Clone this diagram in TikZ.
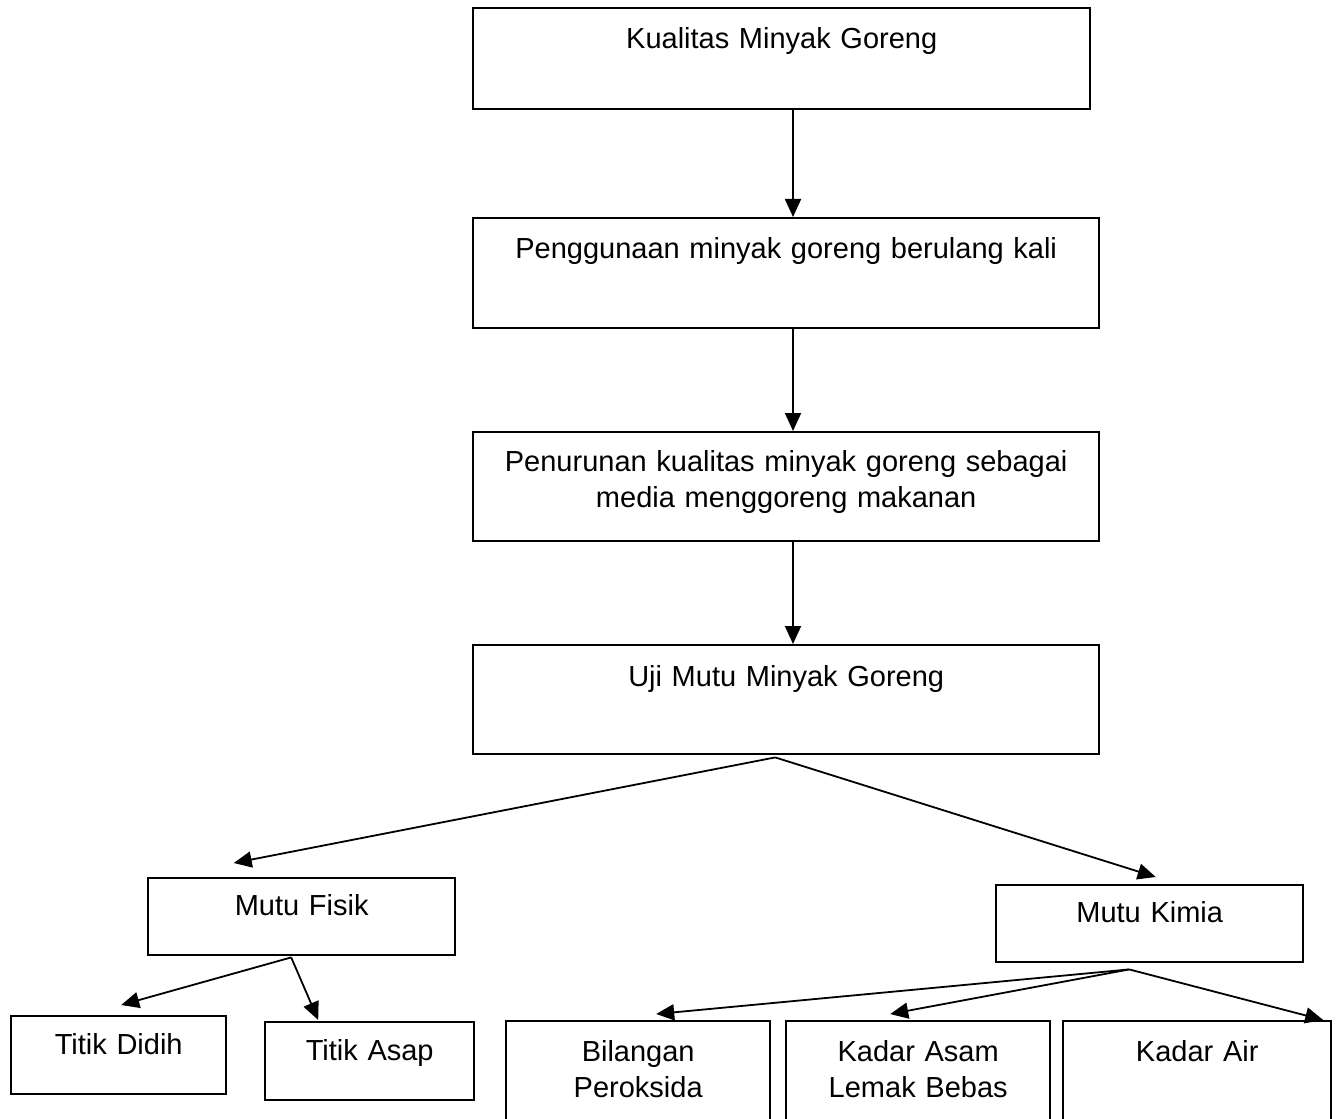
\documentclass[tikz,border=0pt]{standalone}
\usepackage{fontspec}
\setmainfont{Liberation Sans}
\usetikzlibrary{arrows.meta}

\begin{document}
\begin{tikzpicture}[x=0.5pt,y=-0.5pt]
    % Styles
    \tikzstyle{panah}=[->,>={Triangle[length=9pt,width=8pt]},line width=0.9pt]
    \tikzstyle{kotak}=[draw,line width=1.2pt,inner sep=0pt,anchor=north west,align=center,font=\fontsize{14.5}{18}\selectfont]
    \tikzstyle{besar}=[kotak,text width=313pt,text height=20pt,text depth=35pt]
    \tikzstyle{sedang}=[kotak,text width=153.5pt,text height=18.5pt,text depth=20pt]
    \tikzstyle{kecil}=[kotak,text width=133pt,text height=20pt,text depth=42pt]
    % Cadre
    \useasboundingbox (0,0) rectangle (1336,1118);
    \clip (0,0) rectangle (1336,1118);
    \coordinate (sumbu) at (793,0);
    % Noeuds
    \node[besar,text width=308.5pt,text depth=30.5pt] (kualitas) at (472,7) {Kualitas Minyak Goreng};
    \node[besar] (penggunaan) at (472,217) {Penggunaan minyak goreng berulang kali};
    \node[besar,text height=19.5pt] (penurunan) at (472,431) {Penurunan kualitas minyak goreng sebagai\\media menggoreng makanan};
    \node[besar,text height=20.5pt,text depth=34pt] (uji) at (472,644) {Uji Mutu Minyak Goreng};
    \node[sedang] (fisik) at (147,877) {Mutu Fisik};
    \node[sedang] (kimia) at (995,884) {Mutu Kimia};
    \node[sedang,text width=107.5pt,text height=19pt] (didih) at (10,1015) {Titik Didih};
    \node[sedang,text width=104.5pt,text height=19pt] (asap) at (264,1021) {Titik Asap};
    \node[kecil,text width=132pt] (peroksida) at (505,1020) {Bilangan\\Peroksida};
    \node[kecil,text width=132pt] (asam) at (785,1020) {Kadar Asam\\Lemak Bebas};
    \node[kecil,text width=134pt] (air) at (1062,1020) {Kadar Air};
    % Arcs
    \draw[panah] (kualitas.south -| sumbu) -- (penggunaan.north -| sumbu);
    \draw[panah] (penggunaan.south -| sumbu) -- (penurunan.north -| sumbu);
    \draw[panah] (penurunan.south -| sumbu) -- (uji.north -| sumbu);
    \draw[panah] ([xshift=-5.5pt,yshift=-1pt]uji.south) -- ([xshift=-34pt,yshift=7pt]fisik.north);
    \draw[panah] ([xshift=-5.5pt,yshift=-1pt]uji.south) -- ([xshift=3pt,yshift=3.5pt]kimia.north);
    \draw[panah] ([xshift=-5.25pt,yshift=-0.5pt]fisik.south) -- ([xshift=1.25pt,yshift=5pt]didih.north);
    \draw[panah] ([xshift=-5.25pt,yshift=-0.5pt]fisik.south) -- ([xshift=-25.75pt,yshift=0.5pt]asap.north);
    \draw[panah] ([xshift=-10.25pt,yshift=-3pt]kimia.south) -- ([xshift=9pt,yshift=3pt]peroksida.north);
    \draw[panah] ([xshift=-10.25pt,yshift=-3pt]kimia.south) -- ([xshift=-14pt,yshift=3pt]asam.north);
    \draw[panah] ([xshift=-10.25pt,yshift=-3pt]kimia.south) -- ([xshift=63pt]air.north);
\end{tikzpicture}
\end{document}
